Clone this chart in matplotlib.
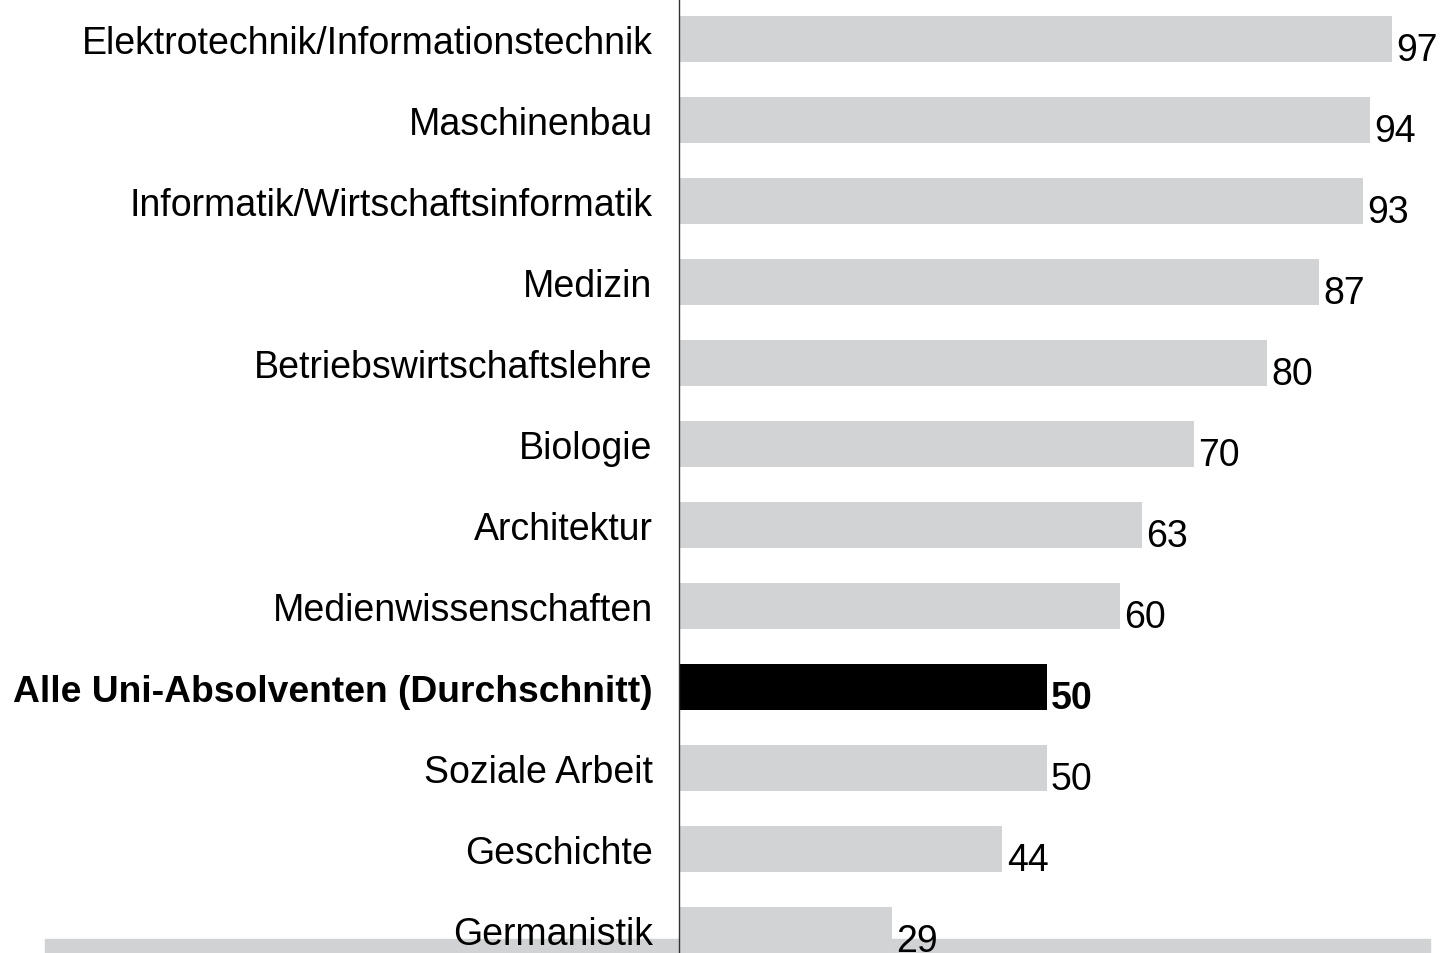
import numpy as np
import matplotlib.pyplot as plt
from matplotlib.patches import Rectangle

plt.rcParams['font.family'] = ['Liberation Sans', 'DejaVu Sans']

# Daten
categories = ['Elektrotechnik/Informationstechnik', 'Maschinenbau',
              'Informatik/Wirtschaftsinformatik', 'Medizin',
              'Betriebswirtschaftslehre', 'Biologie', 'Architektur',
              'Medienwissenschaften', 'Alle Uni-Absolventen (Durchschnitt)',
              'Soziale Arbeit', 'Geschichte', 'Germanistik']
values = [97, 94, 93, 87, 80, 70, 63, 60, 50, 50, 44, 29]
highlight = 'Alle Uni-Absolventen (Durchschnitt)'

W, H = 1445, 954
fig = plt.figure(figsize=(W / 100, H / 100), dpi=100)

# grauer Streifen unten (hinter der Achse)
fig.patches.append(Rectangle((45 / W, 0), (1430 - 45) / W, 14 / H,
                             transform=fig.transFigure, color='#d1d2d4', zorder=-1))

ax = fig.add_axes([679 / W, 0, 1 - 679 / W, 1])
ax.set_facecolor('none')

y = np.arange(len(categories))
colors = ['black' if c == highlight else '#d1d3d4' for c in categories]
ax.barh(y, values, height=0.57, color=colors, zorder=2)

for yi, v, c in zip(y, values, categories):
    ax.text(v + 0.6, yi + 0.13, str(v), va='center', ha='left', fontsize=27,
            fontweight='bold' if c == highlight else 'normal', zorder=3)

ax.set_yticks(y)
ax.set_yticklabels(categories, fontsize=27)
for lab in ax.get_yticklabels():
    if lab.get_text() == highlight:
        lab.set_fontweight('bold')
        lab.set_fontsize(26.8)
ax.tick_params(axis='y', length=0, pad=19)
ax.set_xticks([])

ax.set_xlim(0, 104.2)
ax.set_ylim(914 / 81, -40 / 81)

for s in ['top', 'right', 'bottom']:
    ax.spines[s].set_visible(False)
ax.spines['left'].set_color('#333333')
ax.spines['left'].set_linewidth(1)

fig.savefig('out.png', dpi=100)
